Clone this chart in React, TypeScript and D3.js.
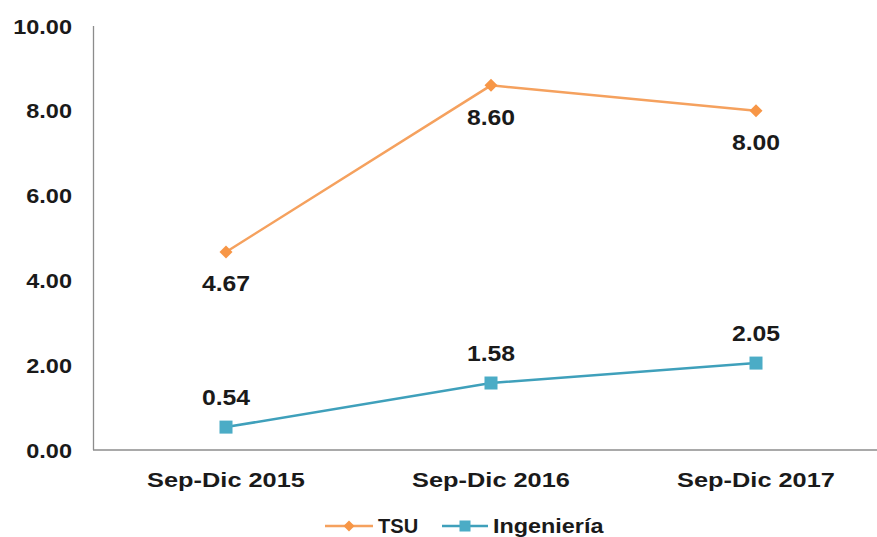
import React from "react";
import * as d3 from "d3";

const categories = ["Sep-Dic 2015", "Sep-Dic 2016", "Sep-Dic 2017"];
const tsuValues = [4.67, 8.6, 8.0];
const ingValues = [0.54, 1.58, 2.05];
const yTicks = [0, 2, 4, 6, 8, 10];
const seriesNames = ["TSU", "Ingeniería"];

const W = 877;
const H = 537;
const ORANGE = "#F79646";
const ORANGE_LINE = "#F5A15E";
const BLUE = "#4BACC6";
const BLUE_LINE = "#3FA0BB";
const FONT = "Arial, 'Liberation Sans', sans-serif";

export default function App() {
  const x = d3.scalePoint<string>().domain(categories).range([93.5, 888.5]).padding(0.5);
  const y = d3.scaleLinear().domain([0, 10]).range([450, 26]);
  const line = d3
    .line<number>()
    .x((_, i) => x(categories[i]) as number)
    .y((d) => y(d));

  const diamond = (cx: number, cy: number, r: number) =>
    `M${cx},${cy - r}L${cx + r},${cy}L${cx},${cy + r}L${cx - r},${cy}Z`;

  const stretchText = (
    txt: string,
    tx: number,
    ty: number,
    size: number,
    sx: number,
    anchor: "start" | "middle" | "end",
    key: string,
    weight = "bold"
  ) => (
    <text
      key={key}
      transform={`translate(${tx},${ty}) scale(${sx},1)`}
      fontFamily={FONT}
      fontSize={size}
      fontWeight={weight}
      fill="#1a1a1a"
      textAnchor={anchor}
    >
      {txt}
    </text>
  );

  return (
    <svg
      width={W}
      height={H}
      style={{ position: "absolute", left: 0, top: 0, background: "#fff" }}
    >
      {/* axes */}
      <line x1={93.5} x2={93.5} y1={26} y2={450} stroke="#8c8c8c" strokeWidth={1.3} />
      <line x1={93} x2={W} y1={450} y2={450} stroke="#8c8c8c" strokeWidth={1.3} />

      {/* y tick labels */}
      {yTicks.map((t) =>
        stretchText(d3.format(".2f")(t), 72, y(t) + 7.5, 21, 1.12, "end", "yt" + t)
      )}

      {/* x labels */}
      {categories.map((c) =>
        stretchText(c, x(c) as number, 487, 19.5, 1.3, "middle", "xl" + c)
      )}

      {/* series lines */}
      <path d={line(tsuValues) || ""} fill="none" stroke={ORANGE_LINE} strokeWidth={2.5} />
      <path d={line(ingValues) || ""} fill="none" stroke={BLUE_LINE} strokeWidth={2.5} />

      {/* markers */}
      {tsuValues.map((v, i) => (
        <path
          key={"tm" + i}
          d={diamond(x(categories[i]) as number, y(v), 6.5)}
          fill={ORANGE}
        />
      ))}
      {ingValues.map((v, i) => (
        <rect
          key={"im" + i}
          x={(x(categories[i]) as number) - 6.5}
          y={y(v) - 6.5}
          width={13}
          height={13}
          fill={BLUE}
        />
      ))}

      {/* data labels */}
      {tsuValues.map((v, i) =>
        stretchText(
          d3.format(".2f")(v),
          x(categories[i]) as number,
          y(v) + 39.5,
          22.5,
          1.1,
          "middle",
          "tl" + i
        )
      )}
      {ingValues.map((v, i) =>
        stretchText(
          d3.format(".2f")(v),
          x(categories[i]) as number,
          y(v) - 22,
          22.5,
          1.1,
          "middle",
          "il" + i
        )
      )}

      {/* legend */}
      <line x1={325} x2={373} y1={526} y2={526} stroke={ORANGE_LINE} strokeWidth={2.5} />
      <path d={diamond(349, 526, 5.5)} fill={ORANGE} />
      {stretchText(seriesNames[0], 378, 533, 19.5, 1.03, "start", "lg0")}
      <line x1={442} x2={488} y1={526} y2={526} stroke={BLUE_LINE} strokeWidth={2.5} />
      <rect x={459.5} y={520.5} width={11} height={11} fill={BLUE} />
      {stretchText(seriesNames[1], 493, 533, 19.5, 1.2, "start", "lg1")}
    </svg>
  );
}
